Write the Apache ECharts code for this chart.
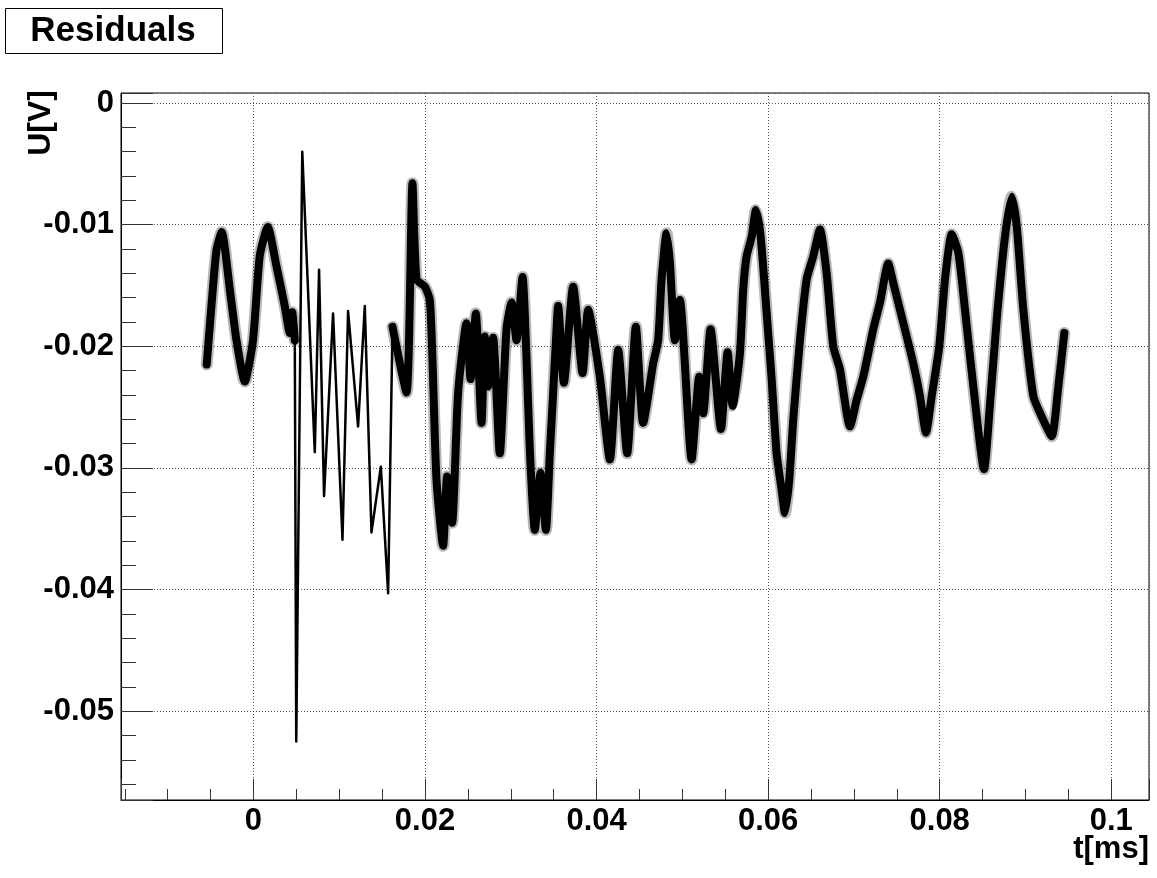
<!DOCTYPE html>
<html>
<head>
<meta charset="utf-8">
<script src="https://cdn.jsdelivr.net/npm/echarts@6/dist/echarts.min.js"></script>
<style>
  html, body { margin: 0; padding: 0; background: #fff; }
  #chart { width: 1157px; height: 878px; }
</style>
</head>
<body>
<div id="chart"></div>
<script>
// time in ms, residual in V (centre of the noisy band)
const time = [
  -0.00545, -0.00490, -0.00431, -0.00370, -0.00276, -0.00198, -0.00101, -0.00005,
  0.00073, 0.00167, 0.00268, 0.00365, 0.00423, 0.00452, 0.00482,
  0.00499, 0.00569, 0.00715, 0.00765, 0.00823, 0.00928, 0.01038, 0.01103,
  0.01220, 0.01298, 0.01376, 0.01485, 0.01570, 0.01621,
  0.01784, 0.01854, 0.01901, 0.01998, 0.02056, 0.02087, 0.02134, 0.02211,
  0.02258, 0.02316, 0.02386, 0.02484, 0.02531, 0.02592, 0.02659, 0.02697,
  0.02736, 0.02794, 0.02872, 0.02950, 0.03009, 0.03067, 0.03137, 0.03184,
  0.03222, 0.03280, 0.03347, 0.03409, 0.03455, 0.03494, 0.03525, 0.03552,
  0.03619, 0.03727, 0.03837, 0.03902, 0.04038, 0.04155, 0.04252, 0.04357,
  0.04458, 0.04543, 0.04660, 0.04718, 0.04758, 0.04816, 0.04855, 0.04913,
  0.04971, 0.05108, 0.05197, 0.05243, 0.05329, 0.05450, 0.05528, 0.05586,
  0.05671, 0.05710, 0.05749, 0.05808, 0.05858, 0.05913, 0.05983, 0.06041,
  0.06099, 0.06157, 0.06196, 0.06246, 0.06293, 0.06371, 0.06449, 0.06526,
  0.06604, 0.06682, 0.06759, 0.06837, 0.06954, 0.07032, 0.07109, 0.07226,
  0.07304, 0.07400, 0.07459, 0.07537, 0.07692, 0.07770, 0.07840, 0.07907,
  0.07995, 0.08062, 0.08140, 0.08217, 0.08295, 0.08392, 0.08517, 0.08587,
  0.08665, 0.08761, 0.08840, 0.08898, 0.08975, 0.09092, 0.09190, 0.09306,
  0.09383, 0.09453
];
const residual = [
  -0.0215, -0.0167, -0.0121, -0.0106, -0.0153, -0.0195, -0.0229, -0.0195,
  -0.0126, -0.0102, -0.0134, -0.0167, -0.0189, -0.0172, -0.0195,
  -0.0525, -0.0040, -0.0287, -0.0137, -0.0323, -0.0173, -0.0359, -0.0171,
  -0.0266, -0.0167, -0.0353, -0.0299, -0.0403, -0.0184,
  -0.0238, -0.0066, -0.0145, -0.0151, -0.0162, -0.0211, -0.0310, -0.0364,
  -0.0307, -0.0345, -0.0238, -0.0181, -0.0227, -0.0173, -0.0263, -0.0192,
  -0.0233, -0.0193, -0.0288, -0.0186, -0.0164, -0.0195, -0.0143, -0.0211,
  -0.0285, -0.0351, -0.0304, -0.0351, -0.0288, -0.0238, -0.0197, -0.0167,
  -0.0230, -0.0151, -0.0222, -0.0170, -0.0225, -0.0293, -0.0203, -0.0288,
  -0.0184, -0.0263, -0.0214, -0.0195, -0.0145, -0.0107, -0.0131, -0.0195,
  -0.0162, -0.0293, -0.0225, -0.0255, -0.0186, -0.0268, -0.0205, -0.0249,
  -0.0206, -0.0153, -0.0126, -0.0110, -0.0088, -0.0110, -0.0173, -0.0227,
  -0.0288, -0.0318, -0.0337, -0.0310, -0.0260, -0.0195, -0.0145, -0.0126,
  -0.0104, -0.0140, -0.0200, -0.0219, -0.0266, -0.0244, -0.0225, -0.0186,
  -0.0164, -0.0132, -0.0148, -0.0170, -0.0214, -0.0241, -0.0271, -0.0241,
  -0.0200, -0.0145, -0.0108, -0.0123, -0.0170, -0.0233, -0.0301, -0.0247,
  -0.0178, -0.0110, -0.0077, -0.0101, -0.0170, -0.0241, -0.0258, -0.0274,
  -0.0233, -0.0189
];
// time window (ms) of the fast transient, drawn as a thin trace
const transientWindow = [0.00482, 0.01621];

const font = '"Liberation Sans", Arial, Helvetica, sans-serif';

// thin trace includes the window ends, the band stops at them, so the two join up
const bandPoints = time.map((t, i) =>
  (t > transientWindow[0] && t < transientWindow[1]) ? [t, null] : [t, residual[i]]);
const thinPoints = time.map((t, i) =>
  (t >= transientWindow[0] && t <= transientWindow[1]) ? [t, residual[i]] : [t, null]);

const chart = echarts.init(document.getElementById('chart'), null, { renderer: 'canvas' });

chart.setOption({
  animation: false,
  backgroundColor: '#fff',
  grid: {
    left: 121, right: 8, top: 93, bottom: 78,
    show: true, borderColor: '#000', borderWidth: 1
  },
  xAxis: {
    type: 'value',
    min: -0.01544, max: 0.1044,
    splitNumber: 6,
    axisLine: { onZero: false, lineStyle: { color: '#000', width: 1 } },
    axisTick: { inside: true, length: 21, lineStyle: { color: '#333' } },
    minorTick: { show: true, splitNumber: 4, length: 11, lineStyle: { color: '#333' } },
    splitLine: { show: true, lineStyle: { color: '#555', width: 1, type: [1, 2] } },
    axisLabel: {
      margin: 6, fontFamily: font, fontWeight: 'bold', fontSize: 31, color: '#000',
      showMinLabel: false, showMaxLabel: false
    }
  },
  yAxis: {
    type: 'value',
    min: -0.0573, max: 0.00082,
    splitNumber: 6,
    axisLine: { onZero: false, lineStyle: { color: '#000', width: 1 } },
    axisTick: { inside: true, length: 32, lineStyle: { color: '#333' } },
    minorTick: { show: true, splitNumber: 5, length: 15, lineStyle: { color: '#333' } },
    splitLine: { show: true, lineStyle: { color: '#555', width: 1, type: [1, 2] } },
    axisLabel: {
      margin: 7, fontFamily: font, fontWeight: 'bold', fontSize: 31, color: '#000',
      showMinLabel: false, showMaxLabel: false
    }
  },
  series: [
    {
      type: 'line', data: bandPoints, symbol: 'none', showSymbol: false,
      connectNulls: false, silent: true, smooth: 0.2,
      lineStyle: { color: 'rgba(0,0,0,0.28)', width: 12, join: 'round', cap: 'round' }
    },
    {
      type: 'line', data: bandPoints, symbol: 'none', showSymbol: false,
      connectNulls: false, silent: true, smooth: 0.2,
      lineStyle: { color: '#000', width: 8, join: 'round', cap: 'round' }
    },
    {
      type: 'line', data: thinPoints, symbol: 'none', showSymbol: false,
      connectNulls: false, silent: true,
      lineStyle: { color: '#000', width: 2.5, join: 'round', cap: 'round' }
    }
  ],
  graphic: [
    {
      type: 'rect', left: 5, top: 8,
      shape: { width: 217, height: 45 },
      style: { fill: '#fff', stroke: '#000', lineWidth: 1 }
    },
    {
      type: 'text', x: 113, y: 31,
      style: {
        text: 'Residuals', font: 'bold 35px ' + font, fill: '#000',
        align: 'center', verticalAlign: 'middle'
      }
    },
    {
      type: 'text', x: 41, y: 90, rotation: Math.PI / 2,
      style: {
        text: 'U[V]', font: 'bold 32px ' + font, fill: '#000',
        align: 'right', verticalAlign: 'middle'
      }
    },
    {
      type: 'text', x: 1149, y: 849,
      style: {
        text: 't[ms]', font: 'bold 31px ' + font, fill: '#000',
        align: 'right', verticalAlign: 'middle'
      }
    }
  ]
});
</script>
</body>
</html>
